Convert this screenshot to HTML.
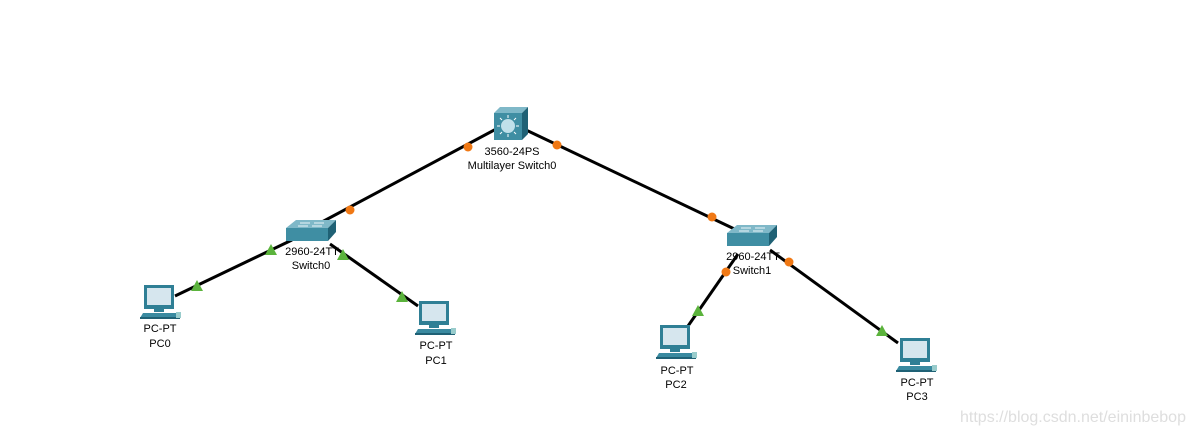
<!DOCTYPE html>
<html><head><meta charset="utf-8"><style>
html,body{margin:0;padding:0;background:#fff;}
svg{display:block;}
text{font-family:"Liberation Sans",Arial,sans-serif;font-size:11px;fill:#000;text-anchor:middle;}
</style></head><body>
<svg width="1197" height="438" viewBox="0 0 1197 438" xmlns="http://www.w3.org/2000/svg">
<defs>
<g id="pc">
  <rect x="4" y="0" width="30" height="24" fill="#2f7f95"/>
  <rect x="7" y="3" width="24" height="17" fill="#d6e6ee"/>
  <rect x="14" y="24" width="10" height="3" fill="#2f7f95"/>
  <polygon points="3,28 37,28 40,33 0,33" fill="#3a8aa0"/>
  <rect x="0" y="32" width="40" height="2" fill="#1f6175"/>
  <rect x="36" y="27" width="5" height="6" fill="#9cc" />
</g>
<g id="sw">
  <polygon points="0,8 10,0 50,0 42,8" fill="#7fb8c8"/>
  <rect x="0" y="8" width="42" height="13" fill="#3f8ea3"/>
  <polygon points="42,8 50,0 50,12 42,21" fill="#1f6175"/>
  <line x1="14" y1="3" x2="24" y2="3" stroke="#e8f4f8" stroke-width="1"/>
  <line x1="28" y1="3" x2="38" y2="3" stroke="#e8f4f8" stroke-width="1"/>
  <line x1="12" y1="6" x2="22" y2="6" stroke="#e8f4f8" stroke-width="1"/>
  <line x1="26" y1="6" x2="36" y2="6" stroke="#e8f4f8" stroke-width="1"/>
</g>
</defs>
<g stroke="#000" stroke-width="3" fill="none">
  <line x1="498" y1="128" x2="305" y2="231"/>
  <line x1="526" y1="130" x2="745" y2="234"/>
  <line x1="292" y1="240" x2="175" y2="296"/>
  <line x1="330" y1="244" x2="418" y2="306"/>
  <line x1="738" y1="254" x2="688" y2="326"/>
  <line x1="770" y1="250" x2="898" y2="343"/>
</g>
<g fill="#f07814">
  <circle cx="468" cy="147" r="4.5"/>
  <circle cx="350" cy="210" r="4.5"/>
  <circle cx="557" cy="145" r="4.5"/>
  <circle cx="712" cy="217" r="4.5"/>
  <circle cx="726" cy="272" r="4.5"/>
  <circle cx="789" cy="262" r="4.5"/>
</g>
<g fill="#5bb33c">
  <polygon points="271,244 277,255 265,255"/>
  <polygon points="197,280 203,291 191,291"/>
  <polygon points="343,249 349,260 337,260"/>
  <polygon points="402,291 408,302 396,302"/>
  <polygon points="698,305 704,316 692,316"/>
  <polygon points="882,325 888,336 876,336"/>
</g>
<g>
  <polygon points="494,113 500,107 528,107 522,113" fill="#7fb8c8"/>
  <rect x="494" y="113" width="28" height="27" fill="#3f8ea3"/>
  <polygon points="522,113 528,107 528,134 522,140" fill="#1f6175"/>
  <circle cx="508" cy="126" r="7" fill="#bfe0ea"/>
  <g stroke="#fff" stroke-width="1">
    <line x1="508" y1="115" x2="508" y2="118"/><line x1="508" y1="134" x2="508" y2="137"/>
    <line x1="497" y1="126" x2="500" y2="126"/><line x1="516" y1="126" x2="519" y2="126"/>
    <line x1="500" y1="118" x2="502" y2="120"/><line x1="514" y1="132" x2="516" y2="134"/>
    <line x1="516" y1="118" x2="514" y2="120"/><line x1="500" y1="134" x2="502" y2="132"/>
  </g>
</g>
<text x="512" y="155">3560-24PS</text>
<text x="512" y="169">Multilayer Switch0</text>
<use href="#sw" x="286" y="220"/>
<text x="312" y="255">2960-24TT</text>
<text x="311" y="269">Switch0</text>
<use href="#sw" x="727" y="225"/>
<text x="753" y="260">2960-24TT</text>
<text x="752" y="274">Switch1</text>
<use href="#pc" x="140" y="285"/>
<text x="160" y="332">PC-PT</text>
<text x="160" y="347">PC0</text>
<use href="#pc" x="415" y="301"/>
<text x="436" y="349">PC-PT</text>
<text x="436" y="364">PC1</text>
<use href="#pc" x="656" y="325"/>
<text x="677" y="374">PC-PT</text>
<text x="676" y="388">PC2</text>
<use href="#pc" x="896" y="338"/>
<text x="917" y="386">PC-PT</text>
<text x="917" y="400">PC3</text>
<text x="1073" y="422" style="font-size:16px;fill:#dedede">https://blog.csdn.net/eininbebop</text>
</svg>
</body></html>
